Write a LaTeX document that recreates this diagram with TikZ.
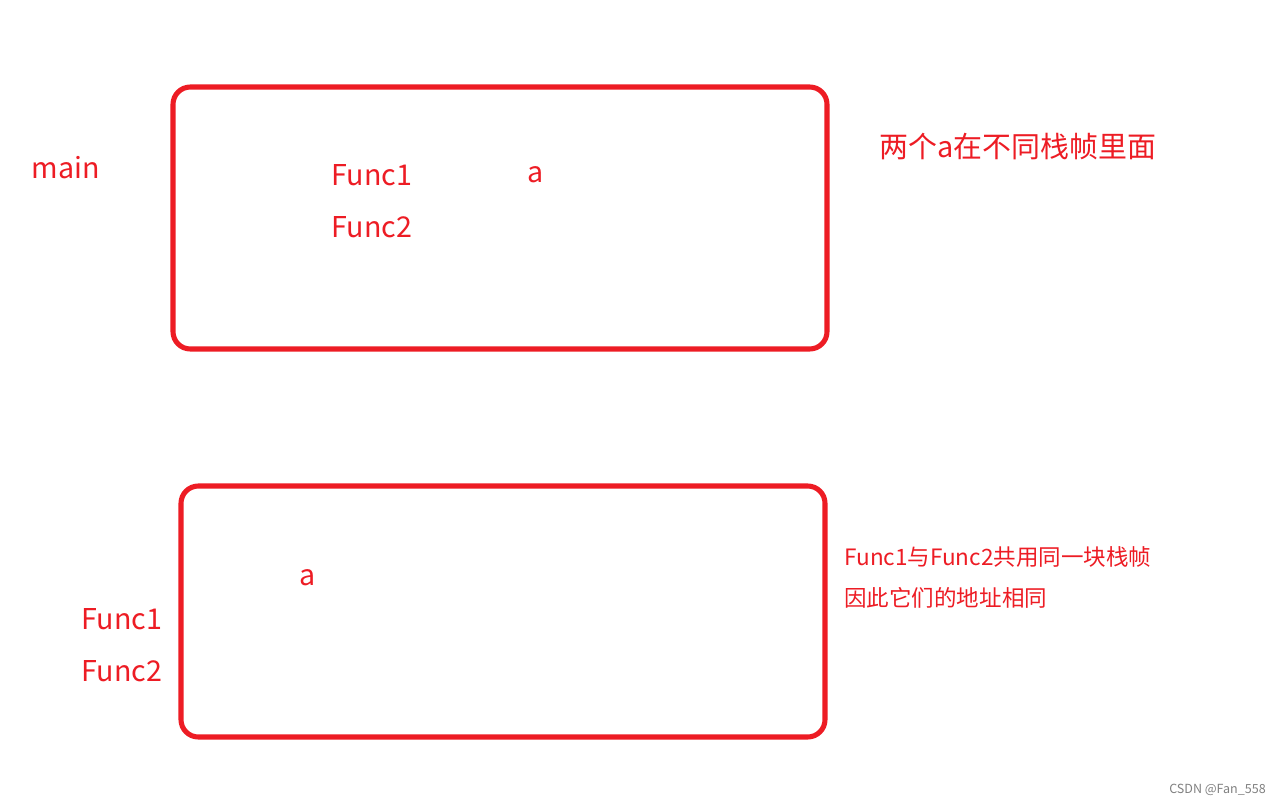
\documentclass[tikz,border=0pt]{standalone}
\usepackage{fontspec}
\setmainfont{Noto Sans CJK SC}
\definecolor{pred}{HTML}{ED1C24}
\begin{document}
\begin{tikzpicture}[x=0.75pt,y=-0.75pt,
  frame/.style={draw=pred,line width=3.8pt,rounded corners=13pt},
  lbl/.style={text=pred,font=\fontsize{21.5}{25}\selectfont,inner sep=0pt},
  note/.style={text=pred,font=\fontsize{16.9}{20}\selectfont,inner sep=0pt,anchor=west}]
\useasboundingbox (0,0) rectangle (1281,806);
\draw[frame] (173,87) rectangle (827,349);
\draw[frame] (181,486) rectangle (825,737);
\node[lbl] (main) at (66,168) {main};
\node[lbl,anchor=west] (f1) at (331,175) {Func1};
\node[lbl,anchor=west] (f2) at (331,227) {Func2};
\node[lbl] (a1) at (536,175) {a};
\node[lbl,anchor=west,font=\fontsize{21.7}{25}\selectfont] (t1) at (879,147) {两个a在不同栈帧里面};
\node[lbl] (a2) at (308,578) {a};
\node[lbl,anchor=west] (g1) at (81,619) {Func1};
\node[lbl,anchor=west] (g2) at (81,671) {Func2};
\node[note] (n1) at (844,557) {Func1与Func2共用同一块栈帧};
\node[note] (n2) at (844,598) {因此它们的地址相同};
\node[anchor=east,inner sep=0pt,text=gray,font=\fontsize{9.4}{11}\selectfont] (w) at (1266,790) {CSDN @Fan\_558};
\end{tikzpicture}
\end{document}
